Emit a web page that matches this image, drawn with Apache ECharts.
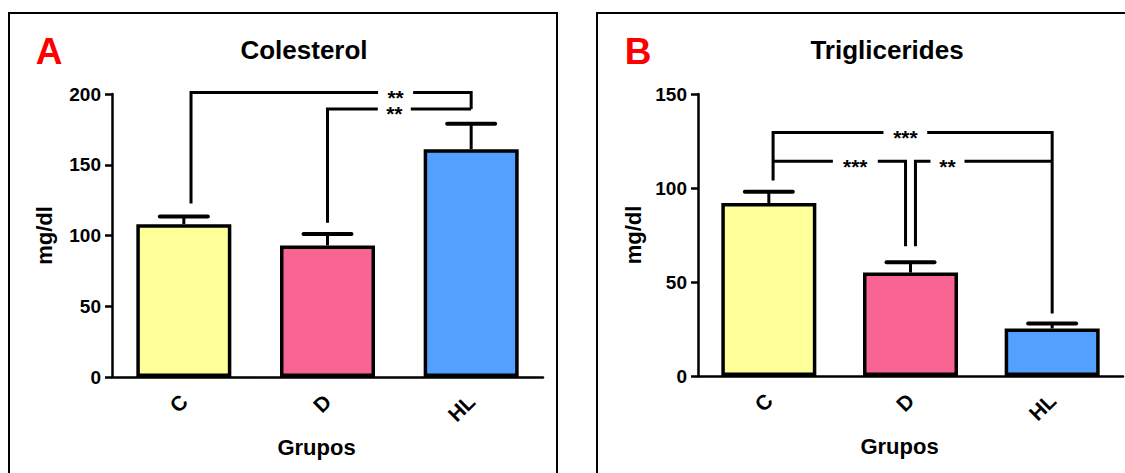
<!DOCTYPE html>
<html>
<head>
<meta charset="utf-8">
<script src="https://cdn.jsdelivr.net/npm/echarts@6/dist/echarts.min.js"></script>
<style>
html,body{margin:0;padding:0;background:#fff;}
#chart{width:1125px;height:473px;}
</style>
</head>
<body>
<div id="chart"></div>
<script>
// ---------- data ----------
const categories = ['C', 'D', 'HL'];
const colors = ['#FFFF99', '#F86592', '#52A0FF'];

const cholMean = [108, 93, 161];
const cholSem = [5.5, 8, 18];
const cholTicks = [0, 50, 100, 150, 200];

const trigMean = [92, 55, 25.3];
const trigSem = [6, 5.5, 2.6];
const trigTicks = [0, 50, 100, 150];

// significance brackets: polylines in (category index, value) units
const bracketsA = [
  [[0.05, 122.7], [0.05, 201], [1.352, 201]],
  [[1.596, 201], [2, 201], [2, 189.4]],
  [[1, 109], [1, 189.4], [1.35, 189.4]],
  [[1.58, 189.4], [2, 189.4]]
];
const starsA = [[1.474, 201, '**'], [1.465, 189.4, '**']];

const bracketsB = [
  [[0.03, 104], [0.03, 129.5], [0.809, 129.5]],
  [[1.118, 129.5], [2, 129.5], [2, 33.2]],
  [[0.03, 114.2], [0.452, 114.2]],
  [[0.769, 114.2], [0.965, 114.2], [0.965, 69]],
  [[1.035, 69], [1.035, 114.2], [1.141, 114.2]],
  [[1.381, 114.2], [2, 114.2]]
];
const starsB = [[0.964, 129.5, '***'], [0.61, 114.2, '***'], [1.261, 114.2, '**']];

// ---------- build ----------
const FONT = "'Liberation Sans', Arial, Helvetica, sans-serif";
const chart = echarts.init(document.getElementById('chart'), null, {renderer: 'svg'});

function catAxis(gridIndex) {
  return {
    type: 'category', gridIndex: gridIndex, data: categories,
    axisLine: {onZero: false, lineStyle: {color: '#000', width: 2.5}},
    axisTick: {alignWithLabel: true, length: 7, lineStyle: {color: '#000', width: 2.5}},
    axisLabel: {rotate: 45, fontSize: 21, fontWeight: 'bold', color: '#000', fontFamily: FONT, margin: 21},
    name: 'Grupos', nameLocation: 'middle', nameGap: 59,
    nameTextStyle: {fontSize: 22, fontWeight: 'bold', color: '#000', fontFamily: FONT, padding: [0, 22, 0, 0]}
  };
}
function overlayAxis(gridIndex) {
  return {type: 'value', gridIndex: gridIndex, min: -0.5, max: 2.5, show: false,
    axisLine: {show: false, onZero: false}};
}
function valAxis(gridIndex, ticks, gap) {
  return {
    type: 'value', gridIndex: gridIndex, min: ticks[0], max: ticks[ticks.length - 1],
    interval: ticks[1] - ticks[0],
    axisLine: {show: true, onZero: false, lineStyle: {color: '#000', width: 2.5}},
    axisTick: {show: true, length: 7, lineStyle: {color: '#000', width: 2.5}},
    axisLabel: {fontSize: 19, fontWeight: 'bold', color: '#000', fontFamily: FONT, margin: 11},
    splitLine: {show: false},
    name: 'mg/dl', nameLocation: 'middle', nameRotate: 90, nameGap: gap,
    nameTextStyle: {fontSize: 22, fontWeight: 'bold', color: '#000', fontFamily: FONT}
  };
}
function barSeries(idx, means) {
  return {
    type: 'bar', xAxisIndex: idx * 2, yAxisIndex: idx, barWidth: 95, silent: true, z: 2,
    data: means.map((v, i) => ({value: v, itemStyle: {color: colors[i]}})),
    itemStyle: {borderColor: '#000', borderWidth: 3.5}
  };
}
function errSeries(idx, means, sems) {
  return {
    type: 'custom', xAxisIndex: idx * 2 + 1, yAxisIndex: idx, silent: true, z: 3, clip: false,
    data: means.map((m, i) => [i, m, m + sems[i]]),
    encode: {x: 0, y: 1},
    renderItem: function (params, api) {
      const p0 = api.coord([api.value(0), api.value(1)]);
      const p1 = api.coord([api.value(0), api.value(2)]);
      return {type: 'group', children: [
        {type: 'line', shape: {x1: p0[0], y1: p0[1], x2: p1[0], y2: p1[1]}, style: {stroke: '#000', lineWidth: 3, fill: null}},
        {type: 'line', shape: {x1: p1[0] - 24, y1: p1[1], x2: p1[0] + 24, y2: p1[1]}, style: {stroke: '#000', lineWidth: 4, lineCap: 'round', fill: null}}
      ]};
    }
  };
}
function bracketSeries(idx, brackets) {
  return {
    type: 'custom', xAxisIndex: idx * 2 + 1, yAxisIndex: idx, silent: true, z: 4, clip: false,
    data: brackets.map(pts => [pts[0][0], pts[0][1]]),
    encode: {x: 0, y: 1},
    renderItem: function (params, api) {
      const pts = brackets[params.dataIndex].map(p => api.coord(p));
      return {type: 'polyline', shape: {points: pts},
        style: {stroke: '#000', lineWidth: 3, fill: null, lineCap: 'butt', lineJoin: 'miter'}};
    }
  };
}
function starSeries(idx, stars) {
  return {
    type: 'custom', xAxisIndex: idx * 2 + 1, yAxisIndex: idx, silent: true, z: 5, clip: false,
    data: stars.map(s => [s[0], s[1]]),
    encode: {x: 0, y: 1},
    renderItem: function (params, api) {
      const p = api.coord([api.value(0), api.value(1)]);
      return {type: 'text', x: p[0], y: p[1] + 5, style: {
        text: stars[params.dataIndex][2], fill: '#000', font: 'bold 21px ' + FONT,
        lineHeight: 14, align: 'center', verticalAlign: 'middle'
      }};
    }
  };
}

const option = {
  animation: false,
  backgroundColor: '#fff',
  grid: [
    {left: 112, top: 94, width: 431, height: 283},
    {left: 698, top: 94, width: 425, height: 282}
  ],
  xAxis: [catAxis(0), overlayAxis(0), catAxis(1), overlayAxis(1)],
  yAxis: [valAxis(0, cholTicks, 57), valAxis(1, trigTicks, 54)],
  graphic: [
    {type: 'rect', shape: {x: 9, y: 13, width: 548, height: 520}, style: {fill: 'none', stroke: '#000', lineWidth: 2}, silent: true},
    {type: 'rect', shape: {x: 597, y: 13, width: 560, height: 520}, style: {fill: 'none', stroke: '#000', lineWidth: 2}, silent: true},
    {type: 'text', x: 49, y: 51, style: {text: 'A', fill: '#FF0000', font: 'bold 37px ' + FONT, textAlign: 'center', textVerticalAlign: 'middle'}},
    {type: 'text', x: 638, y: 51, style: {text: 'B', fill: '#FF0000', font: 'bold 37px ' + FONT, textAlign: 'center', textVerticalAlign: 'middle'}},
    {type: 'text', x: 304, y: 50, style: {text: 'Colesterol', fill: '#000', font: 'bold 26px ' + FONT, textAlign: 'center', textVerticalAlign: 'middle'}},
    {type: 'text', x: 887, y: 50, style: {text: 'Triglicerides', fill: '#000', font: 'bold 26px ' + FONT, textAlign: 'center', textVerticalAlign: 'middle'}}
  ],
  series: [
    barSeries(0, cholMean), errSeries(0, cholMean, cholSem),
    bracketSeries(0, bracketsA), starSeries(0, starsA),
    barSeries(1, trigMean), errSeries(1, trigMean, trigSem),
    bracketSeries(1, bracketsB), starSeries(1, starsB)
  ]
};
chart.setOption(option);
</script>
</body>
</html>
